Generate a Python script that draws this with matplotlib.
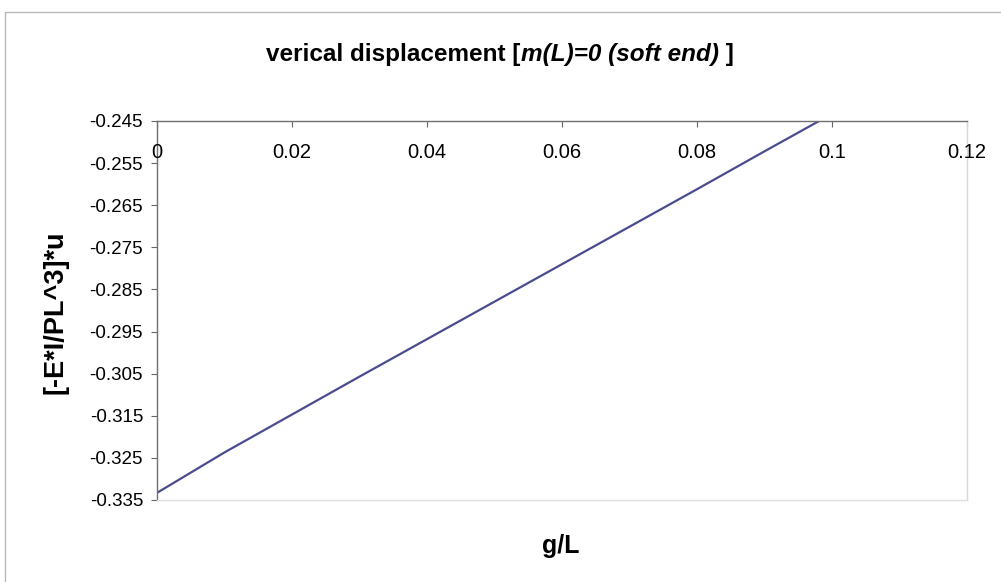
import matplotlib
matplotlib.use("Agg")
import matplotlib.pyplot as plt
from matplotlib.patches import Rectangle

g_over_L = [0.0, 0.01, 0.02, 0.03, 0.04, 0.05, 0.06, 0.07, 0.08, 0.09, 0.10]
displacement = [-0.3333, -0.3237, -0.3147, -0.3057, -0.2968, -0.2879, -0.2790,
                -0.2701, -0.2612, -0.2522, -0.2433]
x_ticks = [0, 0.02, 0.04, 0.06, 0.08, 0.1, 0.12]
x_tick_labels = ["0", "0.02", "0.04", "0.06", "0.08", "0.1", "0.12"]
y_ticks = [-0.245, -0.255, -0.265, -0.275, -0.285, -0.295, -0.305, -0.315, -0.325, -0.335]

plt.rcParams['font.family'] = ['Liberation Sans', 'DejaVu Sans']

W, H = 1001, 582
fig = plt.figure(figsize=(W / 100, H / 100), dpi=100)
fig.patch.set_facecolor('white')

# outer chart frame
fig.patches.append(Rectangle((5 / W, -0.01), 1.1, 1 - 12 / H + 0.01, transform=fig.transFigure,
                             fill=False, edgecolor='#b8b8b8', linewidth=1.0))

left, right, top, bottom = 157, 967, 121, 500
ax = fig.add_axes([left / W, 1 - bottom / H, (right - left) / W, (bottom - top) / H])
ax.plot(g_over_L, displacement, color='#4B4B8F', linewidth=1.6)
ax.set_xlim(0, 0.12)
ax.set_ylim(-0.335, -0.245)

ax.set_yticks(y_ticks)
ax.set_yticklabels([f"{v:.3f}" for v in y_ticks], fontsize=13.5)
ax.tick_params(axis='y', direction='out', length=4, width=0.8, color='#666666', pad=6)

ax.set_xticks(x_ticks)
ax.set_xticklabels([])
ax.tick_params(axis='x', direction='in', length=4, width=0.8, color='#666666',
               bottom=False, top=True)
for xv, lab in zip(x_ticks, x_tick_labels):
    ax.annotate(lab, xy=(xv, -0.245), xycoords='data', xytext=(0, -32),
                textcoords='offset pixels',
                ha='center', va='center', fontsize=14.5, annotation_clip=False)

ax.spines['top'].set_color('#707070')
ax.spines['left'].set_color('#707070')
ax.spines['right'].set_color('#d8d8d8')
ax.spines['bottom'].set_color('#e0e0e0')
for s in ax.spines.values():
    s.set_linewidth(1.0)

# title in segments (bold + bold italic)
title_parts = [("verical displacement [", 'normal'), ("m(L)=0 (soft end)", 'italic'), (" ]", 'normal')]
fs_title = 17.5
renderer = fig.canvas.get_renderer()
texts = []
for s, style in title_parts:
    t = fig.text(0, 1 - 55 / H, s, ha='left', va='center', fontsize=fs_title,
                 fontweight='bold', fontstyle=style)
    texts.append(t)
widths = [t.get_window_extent(renderer).width for t in texts]
total = sum(widths)
x0 = 500 - total / 2
for t, w in zip(texts, widths):
    t.set_x(x0 / W)
    x0 += w

fig.text(56 / W, 1 - 312 / H, "[-E*I/PL^3]*u", rotation=90, ha='center', va='center',
         fontsize=19.5, fontweight='bold')
fig.text(561 / W, 1 - 546 / H, "g/L", ha='center', va='center', fontsize=18, fontweight='bold')

fig.savefig("out.png", dpi=100)
